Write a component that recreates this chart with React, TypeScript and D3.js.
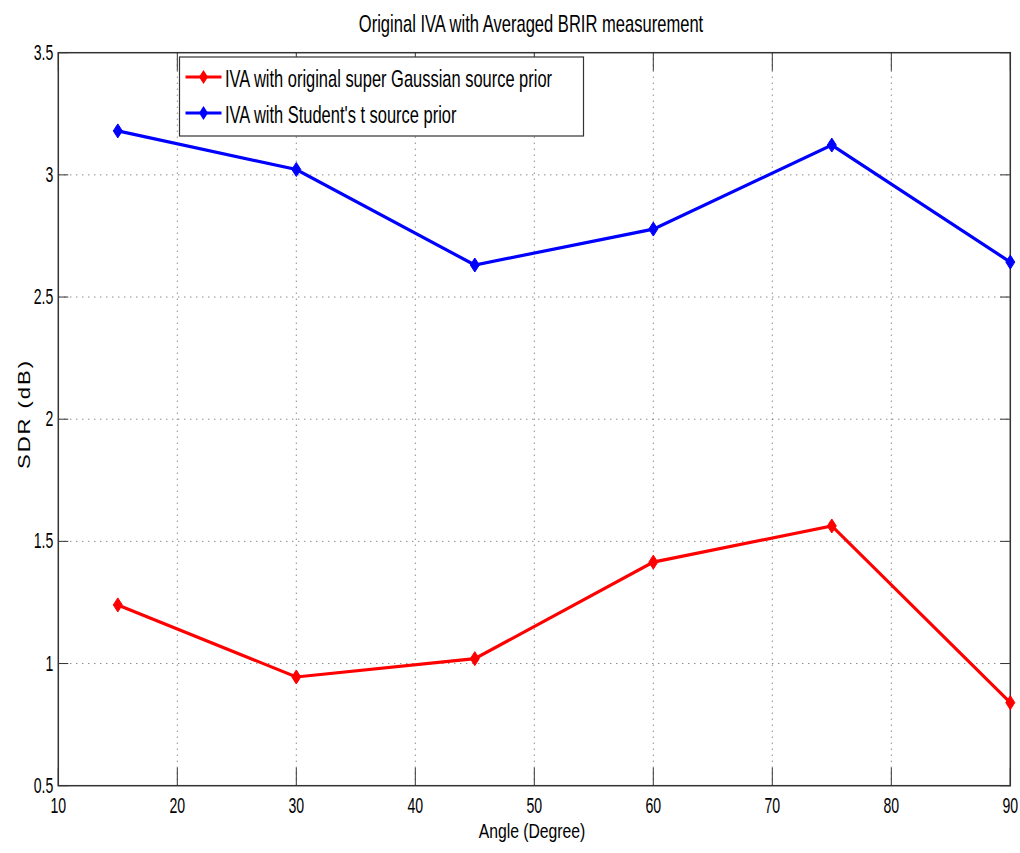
import React, { useEffect, useRef } from 'react';
import * as d3 from 'd3';

const angles = [15, 30, 45, 60, 75, 90];
const gaussianSdr = [1.24, 0.945, 1.02, 1.415, 1.563, 0.84];
const studentSdr = [3.18, 3.022, 2.631, 2.778, 3.122, 2.643];
const xTicks = [10, 20, 30, 40, 50, 60, 70, 80, 90];
const yTicks = [0.5, 1, 1.5, 2, 2.5, 3, 3.5];
const seriesNames = ['IVA with original super Gaussian source prior', "IVA with Student's t source prior"];
const seriesColors = ['#ff0000', '#0000ff'];

const FONT = '"Liberation Sans", Arial, sans-serif';

const App = () => {
  const svgRef = useRef<SVGSVGElement>(null);

  useEffect(() => {
    const svg = d3.select(svgRef.current).attr('width', 1020).attr('height', 853);
    svg.selectAll('*').remove();

    const margin = { top: 52.7, right: 9.7, bottom: 67.3, left: 58.3 };
    const width = 1020 - margin.left - margin.right;
    const height = 853 - margin.top - margin.bottom;

    svg.append('rect').attr('width', 1020).attr('height', 853).attr('fill', '#fff');

    const x = d3.scaleLinear().domain([10, 90]).range([0, width]);
    const y = d3.scaleLinear().domain([0.5, 3.5]).range([height, 0]);

    const g = svg.append('g').attr('transform', `translate(${margin.left},${margin.top})`);

    // condensed text helper (the original uses a narrow font)
    const narrow = (parent: any, tx: number, ty: number, sx: number, size: number, anchor: string, txt: string) =>
      parent.append('text')
        .attr('transform', `translate(${tx},${ty}) scale(${sx},1)`)
        .attr('text-anchor', anchor)
        .attr('font-family', FONT).attr('font-size', size)
        .attr('fill', '#000')
        .text(txt);

    // grid
    g.selectAll('.gx')
      .data(xTicks.slice(1, -1))
      .enter().append('line')
      .attr('x1', d => x(d)).attr('x2', d => x(d))
      .attr('y1', 0).attr('y2', height)
      .attr('stroke', '#555').attr('stroke-width', 1)
      .attr('stroke-dasharray', '1,5');
    g.selectAll('.gy')
      .data(yTicks.slice(1, -1))
      .enter().append('line')
      .attr('y1', d => y(d)).attr('y2', d => y(d))
      .attr('x1', 0).attr('x2', width)
      .attr('stroke', '#555').attr('stroke-width', 1)
      .attr('stroke-dasharray', '1,5');

    // inward ticks
    const tl = 18;
    xTicks.forEach(t => {
      g.append('line').attr('x1', x(t)).attr('x2', x(t)).attr('y1', height).attr('y2', height - tl).attr('stroke', '#333');
      g.append('line').attr('x1', x(t)).attr('x2', x(t)).attr('y1', 0).attr('y2', tl).attr('stroke', '#333');
    });
    yTicks.forEach(t => {
      g.append('line').attr('y1', y(t)).attr('y2', y(t)).attr('x1', 0).attr('x2', 10).attr('stroke', '#333');
      g.append('line').attr('y1', y(t)).attr('y2', y(t)).attr('x1', width).attr('x2', width - 10).attr('stroke', '#333');
    });

    g.append('rect').attr('width', width).attr('height', height)
      .attr('fill', 'none').attr('stroke', '#333').attr('stroke-width', 1.5);

    // tick labels
    xTicks.forEach(t => narrow(g, x(t), height + 27, 0.64, 22, 'middle', String(t)));
    yTicks.forEach(t => narrow(g, -5, y(t) + 7, 0.64, 22, 'end', String(t)));

    // series
    const series = [gaussianSdr, studentSdr];
    const line = d3.line<number>()
      .x((_, i) => x(angles[i]))
      .y(d => y(d));
    const diamond = (cx: number, cy: number) =>
      `M${cx},${cy - 7}L${cx + 4.5},${cy}L${cx},${cy + 7}L${cx - 4.5},${cy}Z`;

    series.forEach((vals, si) => {
      g.append('path')
        .datum(vals)
        .attr('fill', 'none')
        .attr('stroke', seriesColors[si])
        .attr('stroke-width', 3.2)
        .attr('d', line);
      g.selectAll(`.m${si}`)
        .data(vals)
        .enter().append('path')
        .attr('d', (d, i) => diamond(x(angles[i]), y(d)))
        .attr('fill', seriesColors[si])
        .attr('stroke', seriesColors[si]);
    });

    // legend
    const lg = svg.append('g').attr('transform', 'translate(179.5,57)');
    lg.append('rect').attr('width', 404).attr('height', 79)
      .attr('fill', '#fff').attr('stroke', '#333').attr('stroke-width', 1.2);
    seriesNames.forEach((name, i) => {
      const ly = 20 + i * 36;
      lg.append('line').attr('x1', 6).attr('x2', 42).attr('y1', ly).attr('y2', ly)
        .attr('stroke', seriesColors[i]).attr('stroke-width', 3.2);
      lg.append('path').attr('d', diamond(24, ly)).attr('fill', seriesColors[i]);
      narrow(lg, 45.5, ly + 10, 0.686, 24, 'start', name);
    });

    // title and axis labels
    narrow(svg, 531, 32, 0.69, 24, 'middle', 'Original IVA with Averaged BRIR measurement');
    narrow(svg, 532, 838, 0.75, 21, 'middle', 'Angle (Degree)');
    svg.append('text')
      .attr('transform', `translate(30,414) rotate(-90) scale(1.3,1)`)
      .attr('text-anchor', 'middle')
      .attr('font-family', FONT).attr('font-size', 17)
      .attr('letter-spacing', 1.5)
      .text('SDR (dB)');
  }, []);

  return (
    <div style={{ position: 'absolute', left: 0, top: 0 }}>
      <svg ref={svgRef} style={{ display: 'block' }}></svg>
    </div>
  );
};

export default App;
